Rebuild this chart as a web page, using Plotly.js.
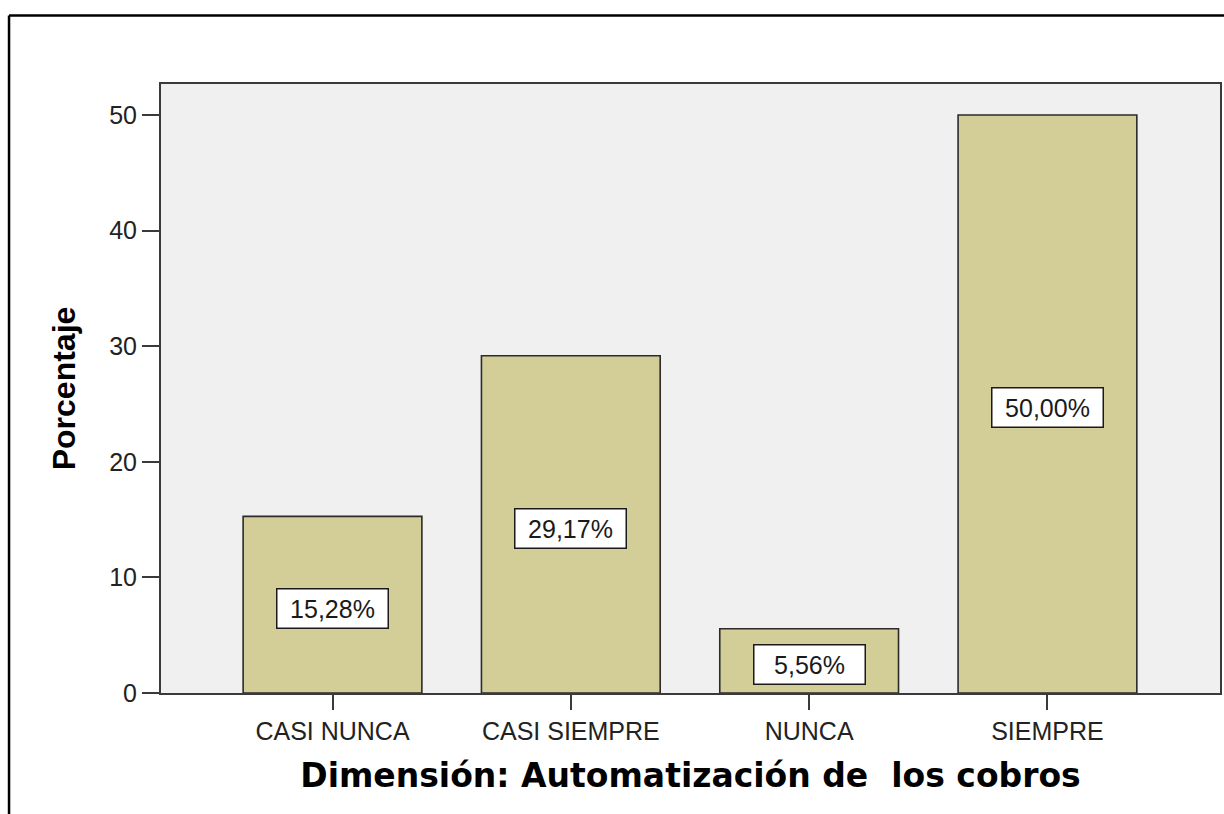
<!DOCTYPE html>
<html>
<head>
<meta charset="utf-8">
<script src="https://cdn.plot.ly/plotly-3.0.1.min.js"></script>
<style>
html,body{margin:0;padding:0;background:#fff;}
#chart{width:1224px;height:814px;}
</style>
</head>
<body>
<div id="chart"></div>
<script>
const categories = ["CASI NUNCA", "CASI SIEMPRE", "NUNCA", "SIEMPRE"];
const percentages = [15.28, 29.17, 5.56, 50.00];
const valueLabels = ["15,28%", "29,17%", "5,56%", "50,00%"];
const yTicks = [0, 10, 20, 30, 40, 50];

const trace = {
  type: "bar",
  x: categories,
  y: percentages,
  marker: {color: "#d3ce98", line: {color: "#2b2b2b", width: 1.6}},
  hoverinfo: "skip"
};

const annotations = categories.map((c, i) => ({
  x: c, y: percentages[i] / 2, xref: "x", yref: "y",
  text: valueLabels[i], showarrow: false,
  font: {family: "Liberation Sans, Arial, sans-serif", size: 25, color: "#1a1a1a"},
  bgcolor: "#ffffff", bordercolor: "#1a1a1a", borderwidth: 1.5,
  borderpad: 5, width: 100, height: 28, yshift: -4
}));

// outer frame (top and left lines), expressed in paper coordinates
const shapes = [
  {type: "line", xref: "paper", yref: "paper", x0: -0.1435, x1: 1.01, y0: 1.1125, y1: 1.1125,
   line: {color: "#000", width: 2.5}},
  {type: "line", xref: "paper", yref: "paper", x0: -0.1435, x1: -0.1435, y0: 1.1125, y1: -0.21,
   line: {color: "#000", width: 2.5}}
];

const layout = {
  width: 1224, height: 814,
  margin: {l: 161, r: 4, t: 84, b: 121, pad: 0},
  paper_bgcolor: "#ffffff",
  plot_bgcolor: "#f0f0f0",
  bargap: 0.25,
  showlegend: false,
  xaxis: {
    type: "category",
    range: [-0.7196, 3.724],
    showline: true, mirror: true, linecolor: "#3a3a3a", linewidth: 2,
    ticks: "outside", ticklen: 15, tickwidth: 2, tickcolor: "#3a3a3a",
    showgrid: false, zeroline: false,
    tickfont: {family: "Liberation Sans, Arial, sans-serif", size: 25, color: "#222"},
    title: {text: "Dimensión: Automatización de \u00a0los cobros",
            font: {family: "DejaVu Sans, Verdana, sans-serif", size: 33, color: "#000", weight: "bold"},
            standoff: 20},
    automargin: false, fixedrange: true
  },
  yaxis: {
    range: [0, 52.68],
    tickvals: yTicks,
    showline: true, mirror: true, linecolor: "#3a3a3a", linewidth: 2,
    ticks: "outside", ticklen: 17, tickwidth: 2, tickcolor: "#3a3a3a",
    showgrid: false, zeroline: false,
    tickfont: {family: "Liberation Sans, Arial, sans-serif", size: 25, color: "#222"},
    title: {text: "Porcentaje",
            font: {family: "Liberation Sans, Arial, sans-serif", size: 32, color: "#000", weight: "bold"},
            standoff: 24},
    automargin: false, fixedrange: true
  },
  annotations: annotations,
  shapes: shapes
};

Plotly.newPlot("chart", [trace], layout, {displayModeBar: false, staticPlot: true});
</script>
</body>
</html>
